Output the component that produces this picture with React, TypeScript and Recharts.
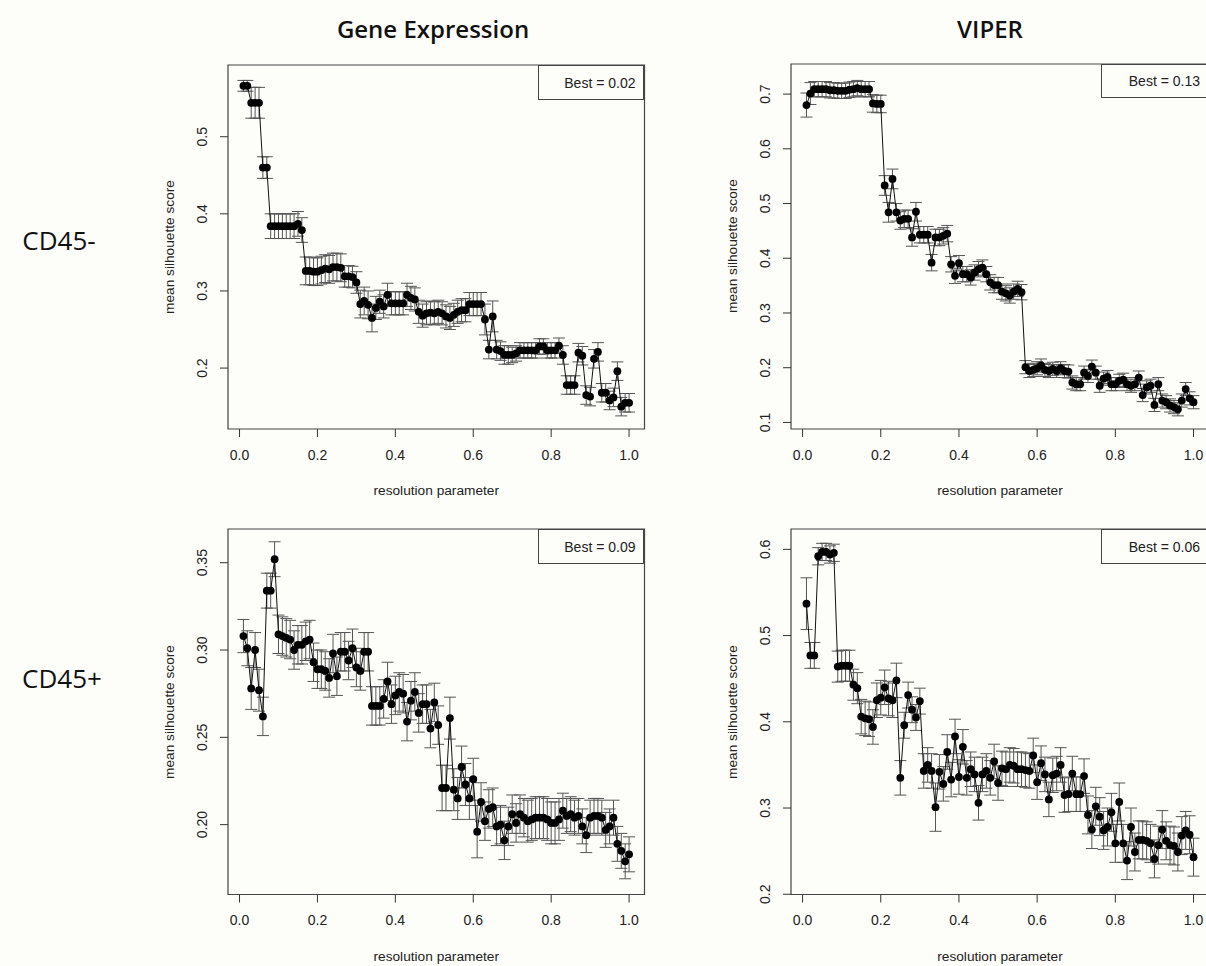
import React from "react";
import { ComposedChart, Line, ErrorBar, XAxis, YAxis, ReferenceArea } from "recharts";

// resolution parameter grid
const RESOLUTION = [
  0.01, 0.02, 0.03, 0.04, 0.05, 0.06, 0.07, 0.08, 0.09, 0.1,
  0.11, 0.12, 0.13, 0.14, 0.15, 0.16, 0.17, 0.18, 0.19, 0.2,
  0.21, 0.22, 0.23, 0.24, 0.25, 0.26, 0.27, 0.28, 0.29, 0.3,
  0.31, 0.32, 0.33, 0.34, 0.35, 0.36, 0.37, 0.38, 0.39, 0.4,
  0.41, 0.42, 0.43, 0.44, 0.45, 0.46, 0.47, 0.48, 0.49, 0.5,
  0.51, 0.52, 0.53, 0.54, 0.55, 0.56, 0.57, 0.58, 0.59, 0.6,
  0.61, 0.62, 0.63, 0.64, 0.65, 0.66, 0.67, 0.68, 0.69, 0.7,
  0.71, 0.72, 0.73, 0.74, 0.75, 0.76, 0.77, 0.78, 0.79, 0.8,
  0.81, 0.82, 0.83, 0.84, 0.85, 0.86, 0.87, 0.88, 0.89, 0.9,
  0.91, 0.92, 0.93, 0.94, 0.95, 0.96, 0.97, 0.98, 0.99, 1.0,
];
const X_TICKS = [0, 0.2, 0.4, 0.6, 0.8, 1.0];

// Gene Expression, CD45-
const GE_NEG = [
  0.566, 0.566, 0.544, 0.544, 0.544, 0.46, 0.46, 0.384, 0.384, 0.384,
  0.384, 0.384, 0.384, 0.384, 0.387, 0.379, 0.326, 0.326, 0.325, 0.325,
  0.327, 0.329, 0.328, 0.331, 0.331, 0.33, 0.319, 0.319, 0.318, 0.311,
  0.283, 0.287, 0.282, 0.265, 0.278, 0.286, 0.28, 0.295, 0.284, 0.284,
  0.284, 0.284, 0.295, 0.291, 0.289, 0.273, 0.268, 0.271, 0.272, 0.271,
  0.273, 0.271, 0.267, 0.265, 0.269, 0.273, 0.275, 0.275, 0.283, 0.283,
  0.283, 0.283, 0.263, 0.224, 0.267, 0.224, 0.222, 0.217, 0.217, 0.217,
  0.219, 0.223, 0.223, 0.223, 0.223, 0.223, 0.228, 0.228, 0.223, 0.223,
  0.223, 0.229, 0.217, 0.178, 0.178, 0.178, 0.22, 0.216, 0.165, 0.163,
  0.212, 0.221, 0.168, 0.168, 0.158, 0.162, 0.196, 0.15, 0.155, 0.155,
];
const GE_NEG_ERR = [
  0.007, 0.007, 0.02, 0.02, 0.02, 0.014, 0.014, 0.016, 0.016, 0.016,
  0.016, 0.016, 0.016, 0.016, 0.016, 0.016, 0.018, 0.018, 0.018, 0.018,
  0.018, 0.018, 0.018, 0.018, 0.018, 0.018, 0.014, 0.014, 0.014, 0.014,
  0.018, 0.018, 0.018, 0.018, 0.015, 0.015, 0.015, 0.015, 0.015, 0.015,
  0.015, 0.015, 0.015, 0.015, 0.015, 0.015, 0.015, 0.015, 0.015, 0.015,
  0.015, 0.015, 0.015, 0.015, 0.015, 0.015, 0.015, 0.015, 0.015, 0.015,
  0.015, 0.015, 0.02, 0.012, 0.02, 0.012, 0.012, 0.012, 0.012, 0.01,
  0.01, 0.01, 0.01, 0.01, 0.01, 0.01, 0.01, 0.01, 0.01, 0.01,
  0.01, 0.01, 0.012, 0.012, 0.012, 0.012, 0.012, 0.012, 0.012, 0.012,
  0.012, 0.012, 0.012, 0.012, 0.012, 0.012, 0.012, 0.012, 0.012, 0.012,
];

// VIPER, CD45-
const VP_NEG = [
  0.68, 0.701, 0.709, 0.709, 0.709, 0.709, 0.707, 0.707, 0.706, 0.706,
  0.706, 0.708, 0.709, 0.711, 0.709, 0.709, 0.709, 0.683, 0.682, 0.682,
  0.533, 0.484, 0.545, 0.484, 0.469, 0.472, 0.472, 0.438, 0.485, 0.443,
  0.443, 0.443, 0.392, 0.438, 0.438, 0.441, 0.445, 0.389, 0.368, 0.391,
  0.371, 0.371, 0.365, 0.374, 0.38, 0.383, 0.371, 0.356, 0.351, 0.351,
  0.339, 0.336, 0.332, 0.339, 0.344, 0.338, 0.201, 0.194, 0.196, 0.199,
  0.204, 0.196, 0.194, 0.198, 0.194, 0.199, 0.194, 0.193, 0.173, 0.17,
  0.17, 0.191, 0.185, 0.202, 0.191, 0.167, 0.18, 0.183, 0.17, 0.17,
  0.176, 0.178, 0.17, 0.167, 0.17, 0.182, 0.15, 0.164, 0.167, 0.132,
  0.17, 0.14, 0.137, 0.131, 0.128, 0.124, 0.14, 0.161, 0.144, 0.137,
];
const VP_NEG_ERR = [
  0.022, 0.02, 0.014, 0.014, 0.014, 0.014, 0.014, 0.014, 0.014, 0.014,
  0.014, 0.014, 0.014, 0.014, 0.014, 0.014, 0.014, 0.016, 0.016, 0.016,
  0.018, 0.018, 0.018, 0.016, 0.016, 0.016, 0.016, 0.016, 0.017, 0.015,
  0.015, 0.015, 0.015, 0.015, 0.015, 0.015, 0.015, 0.014, 0.014, 0.014,
  0.014, 0.014, 0.014, 0.014, 0.014, 0.014, 0.014, 0.014, 0.014, 0.014,
  0.014, 0.014, 0.014, 0.014, 0.014, 0.014, 0.012, 0.012, 0.012, 0.012,
  0.012, 0.012, 0.012, 0.012, 0.012, 0.012, 0.012, 0.012, 0.012, 0.012,
  0.012, 0.012, 0.012, 0.012, 0.012, 0.012, 0.012, 0.012, 0.012, 0.012,
  0.012, 0.012, 0.012, 0.012, 0.012, 0.012, 0.012, 0.012, 0.012, 0.012,
  0.012, 0.012, 0.012, 0.012, 0.012, 0.012, 0.012, 0.012, 0.012, 0.012,
];

// Gene Expression, CD45+
const GE_POS = [
  0.308, 0.301, 0.278, 0.3, 0.277, 0.262, 0.334, 0.334, 0.352, 0.309,
  0.308, 0.307, 0.306, 0.3, 0.303, 0.303, 0.305, 0.306, 0.293, 0.289,
  0.289, 0.288, 0.284, 0.298, 0.285, 0.299, 0.299, 0.294, 0.301, 0.29,
  0.288, 0.299, 0.299, 0.268, 0.268, 0.268, 0.272, 0.282, 0.269, 0.274,
  0.276, 0.275, 0.259, 0.271, 0.276, 0.264, 0.269, 0.269, 0.255, 0.27,
  0.257, 0.221, 0.221, 0.261, 0.22, 0.215, 0.233, 0.223, 0.215, 0.226,
  0.196, 0.213, 0.202, 0.209, 0.21, 0.199, 0.2, 0.191, 0.199, 0.206,
  0.201, 0.206, 0.204, 0.202, 0.203, 0.204, 0.204, 0.204, 0.203, 0.201,
  0.201, 0.203, 0.208, 0.205, 0.206, 0.204, 0.205, 0.199, 0.194, 0.204,
  0.205, 0.205, 0.204, 0.197, 0.199, 0.204, 0.189, 0.185, 0.179, 0.183,
];
const GE_POS_ERR = [
  0.0095, 0.01, 0.012, 0.01, 0.012, 0.011, 0.01, 0.01, 0.01, 0.011,
  0.011, 0.011, 0.011, 0.011, 0.011, 0.011, 0.011, 0.011, 0.011, 0.011,
  0.011, 0.011, 0.011, 0.011, 0.011, 0.011, 0.011, 0.011, 0.011, 0.011,
  0.011, 0.011, 0.011, 0.011, 0.011, 0.011, 0.011, 0.011, 0.011, 0.011,
  0.011, 0.011, 0.011, 0.011, 0.011, 0.011, 0.011, 0.011, 0.011, 0.011,
  0.011, 0.013, 0.013, 0.012, 0.012, 0.012, 0.012, 0.012, 0.012, 0.012,
  0.015, 0.011, 0.011, 0.011, 0.011, 0.011, 0.011, 0.011, 0.011, 0.011,
  0.011, 0.011, 0.011, 0.012, 0.012, 0.012, 0.012, 0.012, 0.012, 0.012,
  0.012, 0.012, 0.01, 0.01, 0.01, 0.01, 0.01, 0.01, 0.01, 0.01,
  0.01, 0.01, 0.01, 0.01, 0.01, 0.01, 0.01, 0.01, 0.01, 0.01,
];

// VIPER, CD45+
const VP_POS = [
  0.537, 0.477, 0.477, 0.592, 0.597, 0.597, 0.594, 0.596, 0.464, 0.465,
  0.465, 0.465, 0.443, 0.439, 0.406, 0.404, 0.403, 0.394, 0.425, 0.428,
  0.44, 0.427, 0.425, 0.448, 0.335, 0.396, 0.431, 0.414, 0.405, 0.424,
  0.343, 0.35, 0.343, 0.301, 0.342, 0.328, 0.365, 0.333, 0.383, 0.336,
  0.371, 0.335, 0.345, 0.339, 0.306, 0.339, 0.343, 0.335, 0.354, 0.329,
  0.346, 0.345, 0.35, 0.349, 0.345, 0.345, 0.344, 0.343, 0.361, 0.33,
  0.352, 0.339, 0.31, 0.338, 0.34, 0.35, 0.315, 0.316, 0.34, 0.316,
  0.316, 0.337, 0.292, 0.275, 0.302, 0.29, 0.274, 0.278, 0.295, 0.259,
  0.307, 0.259, 0.239, 0.278, 0.249, 0.263, 0.263, 0.262, 0.259, 0.241,
  0.257, 0.275, 0.262, 0.257, 0.256, 0.249, 0.268, 0.274, 0.269, 0.243,
];
const VP_POS_ERR = [
  0.03, 0.015, 0.015, 0.01, 0.01, 0.01, 0.01, 0.01, 0.018, 0.018,
  0.018, 0.018, 0.018, 0.018, 0.02, 0.02, 0.02, 0.02, 0.02, 0.02,
  0.02, 0.02, 0.02, 0.02, 0.02, 0.015, 0.015, 0.015, 0.015, 0.015,
  0.02, 0.02, 0.02, 0.028, 0.02, 0.02, 0.02, 0.02, 0.02, 0.02,
  0.02, 0.02, 0.02, 0.02, 0.02, 0.02, 0.02, 0.02, 0.02, 0.02,
  0.02, 0.02, 0.02, 0.02, 0.02, 0.02, 0.02, 0.02, 0.02, 0.02,
  0.02, 0.02, 0.02, 0.02, 0.02, 0.02, 0.02, 0.02, 0.02, 0.02,
  0.02, 0.02, 0.022, 0.022, 0.022, 0.022, 0.022, 0.022, 0.022, 0.022,
  0.022, 0.022, 0.022, 0.022, 0.022, 0.022, 0.022, 0.022, 0.022, 0.022,
  0.022, 0.022, 0.022, 0.022, 0.022, 0.022, 0.022, 0.022, 0.022, 0.022,
];

const FONT = '"Liberation Sans", Arial, Helvetica, sans-serif';
const X_DOMAIN: [number, number] = [-0.0296, 1.0396];

const YTick = (props: any) => {
  const { x, y, payload, digits } = props;
  return (
    <text
      x={x}
      y={y}
      transform={`rotate(-90 ${x} ${y})`}
      textAnchor="middle"
      fontSize={14}
      fontFamily={FONT}
      fill="#222"
    >
      {Number(payload.value).toFixed(digits)}
    </text>
  );
};

interface PanelProps {
  x0: number;
  x1: number;
  y0: number;
  y1: number;
  vals: number[];
  errs: number[];
  yDomain: [number, number];
  yTicks: number[];
  digits: number;
  best: string;
  bestLeft: number;
  bestBottom: number;
}

function Panel({ x0, x1, y0, y1, vals, errs, yDomain, yTicks, digits, best, bestLeft, bestBottom }: PanelProps) {
  const data = RESOLUTION.map((x, i) => ({ x, y: vals[i], err: errs[i] }));
  const ML = 60, MT = 5, MR = 5, XH = 40;
  const plotW = x1 - x0;
  const plotH = y1 - y0;
  return (
    <>
      <div style={{ position: "absolute", left: x0 - ML, top: y0 - MT }}>
        <ComposedChart
          width={plotW + ML + MR}
          height={plotH + MT + XH}
          data={data}
          margin={{ top: MT, right: MR, left: 0, bottom: 0 }}
        >
          <XAxis
            type="number"
            dataKey="x"
            domain={X_DOMAIN}
            ticks={X_TICKS}
            allowDataOverflow
            interval={0}
            axisLine={false}
            tickSize={8}
            tickMargin={13}
            tickLine={{ stroke: "#333" }}
            tick={{ fontSize: 14, fill: "#222", fontFamily: FONT }}
            tickFormatter={(v: number) => v.toFixed(1)}
            height={XH}
          />
          <YAxis
            type="number"
            domain={yDomain}
            ticks={yTicks}
            allowDataOverflow
            interval={0}
            axisLine={false}
            tickSize={8}
            tickMargin={13}
            tickLine={{ stroke: "#333" }}
            tick={<YTick digits={digits} />}
            width={ML}
          />
          <ReferenceArea
            x1={X_DOMAIN[0]}
            x2={X_DOMAIN[1]}
            y1={yDomain[0]}
            y2={yDomain[1]}
            fill="none"
            stroke="#444"
            strokeWidth={1.2}
            ifOverflow="visible"
          />
          <Line
            dataKey="y"
            stroke="#111"
            strokeWidth={1}
            dot={{ r: 3.9, fill: "#000", stroke: "none" }}
            activeDot={false}
            isAnimationActive={false}
          >
            <ErrorBar dataKey="err" width={6} stroke="#555" strokeWidth={1} isAnimationActive={false} />
          </Line>
        </ComposedChart>
      </div>
      {/* Best = ... legend box */}
      <div
        style={{
          position: "absolute",
          left: bestLeft,
          top: y0,
          width: x1 - bestLeft,
          height: bestBottom - y0,
          border: "1.2px solid #444",
          boxSizing: "border-box",
          fontFamily: FONT,
          fontSize: 14,
          color: "#222",
          display: "flex",
          alignItems: "center",
          justifyContent: "flex-end",
          paddingRight: 8,
        }}
      >
        {best}
      </div>
      <div
        style={{
          position: "absolute",
          left: x0 - 59,
          top: (y0 + y1) / 2,
          transform: "translate(-50%, -50%) rotate(-90deg)",
          whiteSpace: "nowrap",
          fontFamily: FONT,
          fontSize: 13.7,
          color: "#222",
        }}
      >
        mean silhouette score
      </div>
      <div
        style={{
          position: "absolute",
          left: (x0 + x1) / 2,
          top: y1 + 61,
          transform: "translate(-50%, -50%)",
          whiteSpace: "nowrap",
          fontFamily: FONT,
          fontSize: 13.7,
          color: "#222",
        }}
      >
        resolution parameter
      </div>
    </>
  );
}

const bigText: React.CSSProperties = {
  position: "absolute",
  transform: "translate(-50%, -50%)",
  whiteSpace: "nowrap",
  fontFamily: '"Open Sans", "Noto Sans", sans-serif',
  color: "#111",
};

export default function App() {
  return (
    <div
      style={{
        position: "absolute",
        left: 0,
        top: 0,
        width: 1206,
        height: 966,
        overflow: "hidden",
        background: "#fdfdf9",
      }}
    >
      <div style={{ ...bigText, left: 433, top: 28, fontSize: 24, fontWeight: 600 }}>Gene Expression</div>
      <div style={{ ...bigText, left: 990, top: 28, fontSize: 24, fontWeight: 600 }}>VIPER</div>
      <div style={{ ...bigText, left: 59, top: 240, fontSize: 26, fontWeight: 400 }}>CD45-</div>
      <div style={{ ...bigText, left: 62, top: 678, fontSize: 26, fontWeight: 400 }}>CD45+</div>

      <Panel
        x0={228} x1={644.5} y0={65} y1={429}
        vals={GE_NEG} errs={GE_NEG_ERR}
        yDomain={[0.121, 0.593]} yTicks={[0.2, 0.3, 0.4, 0.5]} digits={1}
        best="Best = 0.02" bestLeft={537.7} bestBottom={100}
      />
      <Panel
        x0={791} x1={1209} y0={63.5} y1={428.5}
        vals={VP_NEG} errs={VP_NEG_ERR}
        yDomain={[0.088, 0.755]} yTicks={[0.1, 0.2, 0.3, 0.4, 0.5, 0.6, 0.7]} digits={1}
        best="Best = 0.13" bestLeft={1101} bestBottom={98.3}
      />
      <Panel
        x0={228} x1={644.5} y0={529} y1={894.5}
        vals={GE_POS} errs={GE_POS_ERR}
        yDomain={[0.16, 0.3693]} yTicks={[0.2, 0.25, 0.3, 0.35]} digits={2}
        best="Best = 0.09" bestLeft={537.7} bestBottom={564.3}
      />
      <Panel
        x0={791} x1={1209} y0={529} y1={894.5}
        vals={VP_POS} errs={VP_POS_ERR}
        yDomain={[0.1997, 0.6236]} yTicks={[0.2, 0.3, 0.4, 0.5, 0.6]} digits={1}
        best="Best = 0.06" bestLeft={1101} bestBottom={564.3}
      />
    </div>
  );
}
